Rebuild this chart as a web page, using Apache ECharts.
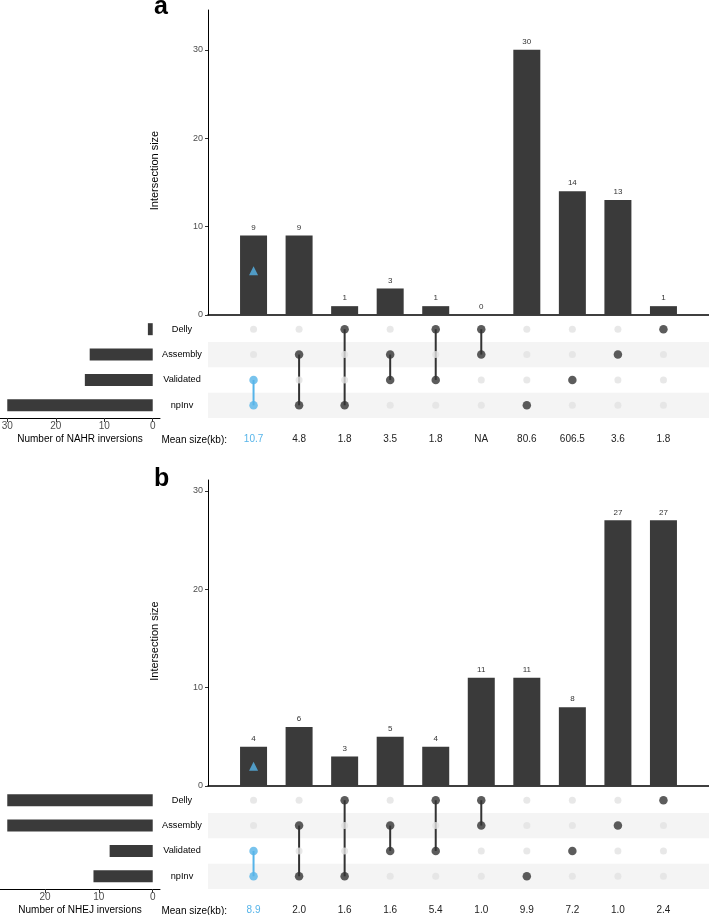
<!DOCTYPE html>
<html><head><meta charset="utf-8">
<script src="https://cdn.jsdelivr.net/npm/echarts@6/dist/echarts.min.js"></script>
<style>html,body{margin:0;padding:0;background:#fff}#c{width:709px;height:915px}</style>
</head><body><div id="c"></div>
<script>
// ---------- data ----------
const sets = ['Delly', 'Assembly', 'Validated', 'npInv'];
// set membership of each intersection column (indices into sets)
const combos = [[2,3],[1,3],[0,3],[1,2],[0,2],[0,1],[3],[2],[1],[0]];
const highlightCol = 0;
const nahrSizes = [9, 9, 1, 3, 1, 0, 30, 14, 13, 1];
const nahrMeans = ['10.7', '4.8', '1.8', '3.5', '1.8', 'NA', '80.6', '606.5', '3.6', '1.8'];
const nahrSetSizes = [1, 13, 14, 30];
const nahrTriangle = 5;
const nhejSizes = [4, 6, 3, 5, 4, 11, 11, 8, 27, 27];
const nhejMeans = ['8.9', '2.0', '1.6', '1.6', '5.4', '1.0', '9.9', '7.2', '1.0', '2.4'];
const nhejSetSizes = [27, 27, 8, 11];
const nhejTriangle = 2;
const intersectionTicks = [0, 10, 20, 30];
const nahrSetTicks = [0, 10, 20, 30];
const nhejSetTicks = [0, 10, 20];

// ---------- style ----------
const FONT = 'Liberation Sans';
const DARK = '#3a3a3a';
const BLUE = '#56B4E9';
const X_MAX = combos.length + 1;

const panels = [
  {letter: 'a', letterY: 9, sizes: nahrSizes, means: nahrMeans, setSizes: nahrSetSizes, tri: nahrTriangle,
   setTicks: nahrSetTicks, setTitle: 'Number of NAHR inversions',
   barTop: 10, barH: 305, barMax: 34.5, matTop: 316.5, matH: 101.5, setMin: -1.5, setMax: 31.5},
  {letter: 'b', letterY: 481, sizes: nhejSizes, means: nhejMeans, setSizes: nhejSetSizes, tri: nhejTriangle,
   setTicks: nhejSetTicks, setTitle: 'Number of NHEJ inversions',
   barTop: 480, barH: 306, barMax: 31.1, matTop: 787.5, matH: 101.5, setMin: -1.35, setMax: 28.35}
];

const grid = [], xAxis = [], yAxis = [], series = [], graphic = [];

panels.forEach((p, pi) => {
  const gBar = grid.length, gMat = gBar + 1, gSet = gBar + 2;
  const gb = {outerBoundsMode: 'none', containLabel: false};
  grid.push(Object.assign({left: 208, top: p.barTop, width: 501, height: p.barH}, gb));
  grid.push(Object.assign({left: 208, top: p.matTop, width: 501, height: p.matH}, gb));
  grid.push(Object.assign({left: 0, top: p.matTop, width: 160, height: p.matH}, gb));

  // bar grid axes
  xAxis.push({gridIndex: gBar, type: 'value', min: 0, max: X_MAX,
    axisLine: {show: true, onZero: false, lineStyle: {color: '#000', width: 1.5}},
    axisTick: {show: false}, axisLabel: {show: false}, splitLine: {show: false}});
  yAxis.push({gridIndex: gBar, type: 'value', min: 0, max: p.barMax,
    name: 'Intersection size', nameLocation: 'middle', nameGap: 48,
    nameTextStyle: {fontFamily: FONT, fontSize: 11, color: '#000', padding: [0, 16, 0, 0]},
    axisLine: {show: true, lineStyle: {color: '#000', width: 1}},
    axisTick: {show: true, length: 3, customValues: intersectionTicks, lineStyle: {color: '#333'}},
    axisLabel: {customValues: intersectionTicks, fontFamily: FONT, fontSize: 9, color: '#4d4d4d', margin: 5},
    splitLine: {show: false}});

  // matrix axes
  xAxis.push({gridIndex: gMat, type: 'value', min: 0, max: X_MAX,
    axisLine: {show: false}, axisTick: {show: false}, splitLine: {show: false},
    axisLabel: {customValues: combos.map((c, i) => i + 1), margin: 16,
      fontFamily: FONT, fontSize: 10, color: '#222',
      formatter: v => { const i = Math.round(v) - 1; return i === highlightCol ? '{h|' + p.means[i] + '}' : p.means[i]; },
      rich: {h: {color: BLUE, fontFamily: FONT, fontSize: 10}}}});
  yAxis.push({gridIndex: gMat, type: 'category', data: sets, inverse: true,
    axisLine: {show: false}, axisTick: {show: false}, splitLine: {show: false},
    axisLabel: {align: 'center', margin: 26, fontFamily: FONT, fontSize: 9.2, color: '#000'}});

  // set size axes
  xAxis.push({gridIndex: gSet, type: 'value', inverse: true, min: p.setMin, max: p.setMax,
    name: p.setTitle, nameLocation: 'middle', nameGap: 16,
    nameTextStyle: {fontFamily: FONT, fontSize: 10, color: '#000'},
    axisLine: {show: true, onZero: false, lineStyle: {color: '#000', width: 1}},
    axisTick: {show: true, length: 4, customValues: p.setTicks, lineStyle: {color: '#333'}},
    axisLabel: {customValues: p.setTicks, fontFamily: FONT, fontSize: 10, color: '#4d4d4d', margin: 3},
    splitLine: {show: false}});
  yAxis.push({gridIndex: gSet, type: 'category', data: sets, inverse: true, show: false});

  // intersection bars
  series.push({type: 'bar', xAxisIndex: gBar, yAxisIndex: gBar, barWidth: 27,
    data: p.sizes.map((v, i) => [i + 1, v]),
    itemStyle: {color: DARK},
    label: {show: true, position: 'top', distance: 4, fontFamily: FONT, fontSize: 8, color: '#333',
      formatter: d => d.value[1]},
    silent: true, z: 2});
  series.push({type: 'scatter', xAxisIndex: gBar, yAxisIndex: gBar, symbol: 'triangle', symbolSize: 9,
    data: [[highlightCol + 1, p.tri]], itemStyle: {color: BLUE}, z: 5, silent: true});

  // stripes
  series.push({type: 'bar', xAxisIndex: gMat, yAxisIndex: gMat, barWidth: '100%',
    data: sets.map((s, i) => i % 2 === 1 ? X_MAX : '-'),
    itemStyle: {color: '#f4f4f4'}, silent: true, z: 0});

  // connecting lines
  series.push({type: 'custom', xAxisIndex: gMat, yAxisIndex: gMat, z: 2, silent: true,
    data: combos.map((c, i) => [i + 1, Math.min(...c), Math.max(...c), i === highlightCol ? 1 : 0])
      .filter(d => d[1] !== d[2]),
    encode: {x: 0, y: [1, 2]},
    renderItem: (params, api) => {
      const a = api.coord([api.value(0), api.value(1)]);
      const b = api.coord([api.value(0), api.value(2)]);
      return {type: 'line', shape: {x1: a[0], y1: a[1], x2: b[0], y2: b[1]},
        style: {stroke: api.value(3) ? BLUE : '#333', lineWidth: 2}};
    }});

  // grey (empty) and filled dots
  const grey = [], dark = [];
  combos.forEach((c, i) => sets.forEach((s, si) => {
    if (c.includes(si)) dark.push({value: [i + 1, si], itemStyle: {color: i === highlightCol ? BLUE : '#333'}});
    else grey.push([i + 1, si]);
  }));
  series.push({type: 'scatter', xAxisIndex: gMat, yAxisIndex: gMat, symbolSize: 7, data: grey,
    itemStyle: {color: '#e2e2e2'}, silent: true, z: 3});
  series.push({type: 'scatter', xAxisIndex: gMat, yAxisIndex: gMat, symbolSize: 8.5, data: dark,
    silent: true, z: 4});

  // set size bars
  series.push({type: 'bar', xAxisIndex: gSet, yAxisIndex: gSet, barWidth: 12,
    data: p.setSizes, itemStyle: {color: DARK}, silent: true});

  graphic.push({type: 'text', left: 154, top: p.letterY - 14,
    style: {text: p.letter, fontFamily: FONT, fontSize: 25, fontWeight: 'bold', fill: '#000'}});
  graphic.push({type: 'text', x: 227, y: p.matTop + p.matH + 22,
    style: {text: 'Mean size(kb):', fontFamily: FONT, fontSize: 10, fill: '#000',
      align: 'right', verticalAlign: 'middle'}});
});

const chart = echarts.init(document.getElementById('c'), null, {renderer: 'canvas'});
chart.setOption({animation: false, backgroundColor: '#fff', grid, xAxis, yAxis, series, graphic});
</script>
</body></html>
